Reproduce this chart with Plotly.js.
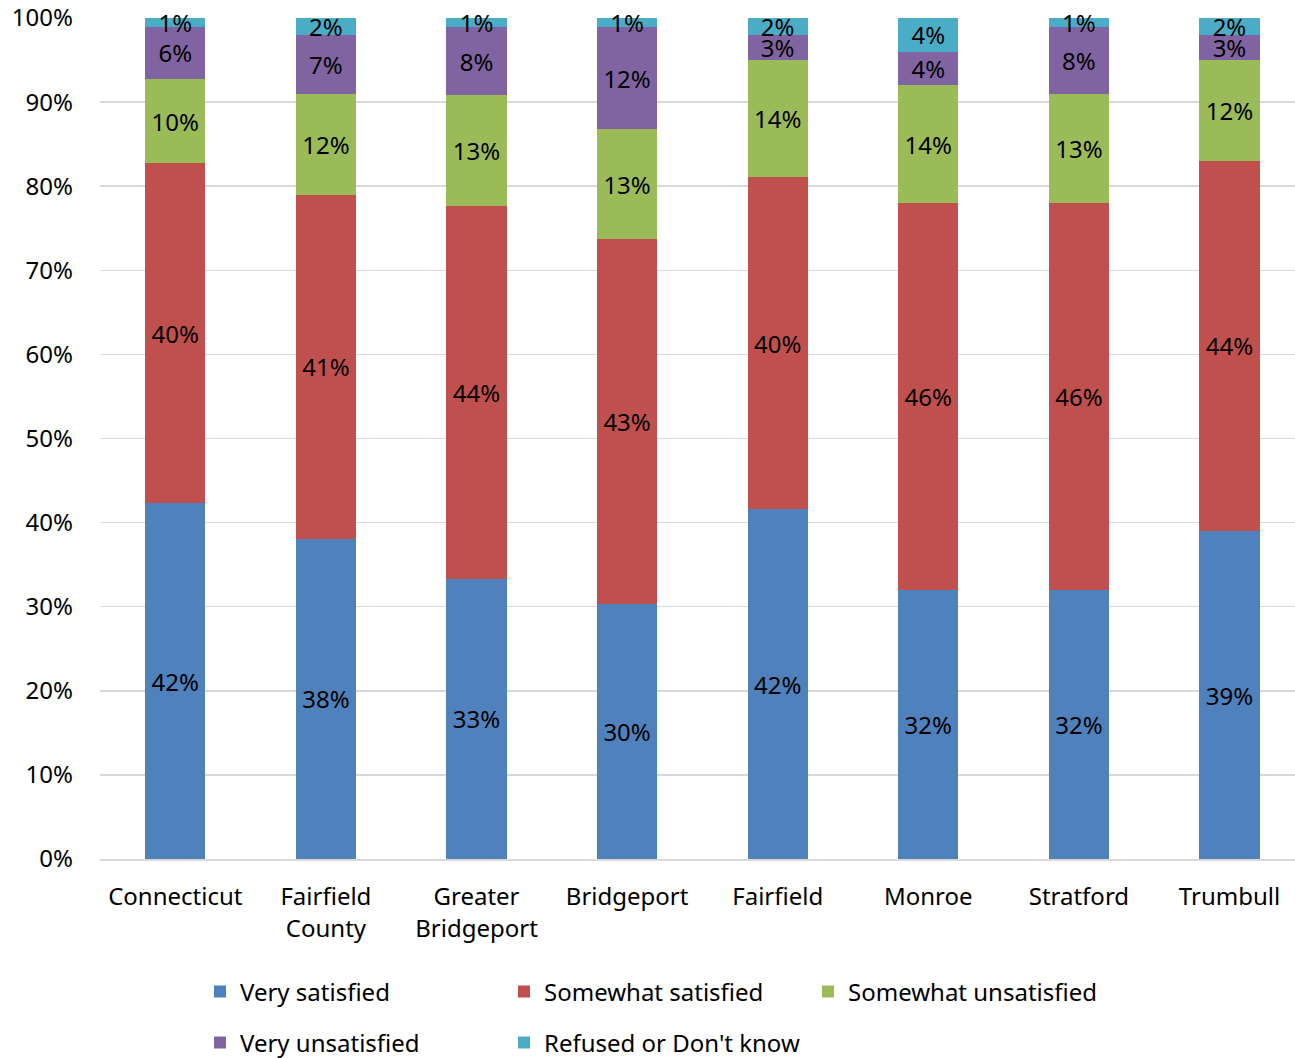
<!DOCTYPE html>
<html>
<head>
<meta charset="utf-8">
<script src="https://cdn.plot.ly/plotly-3.0.1.min.js"></script>
<style>html,body{margin:0;padding:0;background:#fff;}#chart{width:1295px;height:1058px;}</style>
</head>
<body>
<div id="chart"></div>
<script>
const categories = ["Connecticut", "Fairfield<br>County", "Greater<br>Bridgeport", "Bridgeport", "Fairfield", "Monroe", "Stratford", "Trumbull"];
const verySatisfied       = [42.3, 38.1, 33.3, 30.3, 41.6, 32.0, 32.0, 39.0];
const somewhatSatisfied   = [40.4, 40.9, 44.4, 43.4, 39.5, 46.0, 46.0, 44.0];
const somewhatUnsatisfied = [10.1, 12.0, 13.1, 13.1, 13.9, 14.0, 13.0, 12.0];
const veryUnsatisfied     = [6.1, 7.0, 8.1, 12.1, 3.0, 4.0, 7.9, 3.0];
const refusedDontKnow     = [1.1, 2.0, 1.1, 1.1, 2.0, 4.0, 1.1, 2.0];
const seriesNames = ["Very satisfied", "Somewhat satisfied", "Somewhat unsatisfied", "Very unsatisfied", "Refused or Don't know"];
const seriesColors = ["#4F81BD", "#C0504D", "#9BBB59", "#8064A2", "#4BACC6"];
const yTickVals = [0, 10, 20, 30, 40, 50, 60, 70, 80, 90, 100];
const yTickText = ["0%", "10%", "20%", "30%", "40%", "50%", "60%", "70%", "80%", "90%", "100%"];

const FONT = "'Noto Sans', 'Open Sans', sans-serif";
const FS = 24;
const allSeries = [verySatisfied, somewhatSatisfied, somewhatUnsatisfied, veryUnsatisfied, refusedDontKnow];

const traces = allSeries.map((vals, i) => ({
  type: "bar",
  name: seriesNames[i],
  x: categories,
  y: vals,
  marker: {color: seriesColors[i], line: {width: 0}},
  text: vals.map(v => Math.round(v) + "%"),
  textposition: "inside",
  insidetextanchor: "middle",
  textangle: 0,
  constraintext: "none",
  cliponaxis: false,
  textfont: {family: FONT, size: FS, color: "#000"},
  hoverinfo: "skip",
  legend: i < 3 ? "legend" : "legend2"
}));

const legendCommon = {
  orientation: "h",
  xref: "container", yref: "container",
  xanchor: "left", yanchor: "middle",
  font: {family: FONT, size: FS, color: "#000"},
  entrywidth: 259,
  entrywidthmode: "pixels",
  itemclick: false, itemdoubleclick: false,
  bgcolor: "rgba(0,0,0,0)",
  traceorder: "normal"
};

const layout = {
  width: 1295, height: 1058,
  margin: {l: 100, r: 0, t: 18, b: 199},
  paper_bgcolor: "#fff", plot_bgcolor: "#fff",
  barmode: "stack",
  bargap: 0.6,
  font: {family: FONT, size: FS, color: "#000"},
  xaxis: {
    type: "category",
    range: [-0.5, 7.435],
    showgrid: false,
    showline: true, linecolor: "#d9d9d9", linewidth: 1.5,
    ticks: "", ticklabelstandoff: 16,
    tickfont: {family: FONT, size: FS, color: "#000"},
    fixedrange: true
  },
  yaxis: {
    range: [0, 100.0001],
    tickvals: yTickVals, ticktext: yTickText,
    showgrid: true, gridcolor: "#d9d9d9", gridwidth: 1.5,
    zeroline: false, showline: false,
    ticks: "", ticklabelstandoff: 26,
    tickfont: {family: FONT, size: FS, color: "#000"},
    fixedrange: true
  },
  legend: Object.assign({}, legendCommon, {x: 200/1295, y: 1 - 992/1058}),
  legend2: Object.assign({}, legendCommon, {x: 200/1295, y: 1 - 1043/1058}),
  showlegend: true
};

Plotly.newPlot("chart", traces, layout, {displayModeBar: false, staticPlot: true});
</script>
</body>
</html>
